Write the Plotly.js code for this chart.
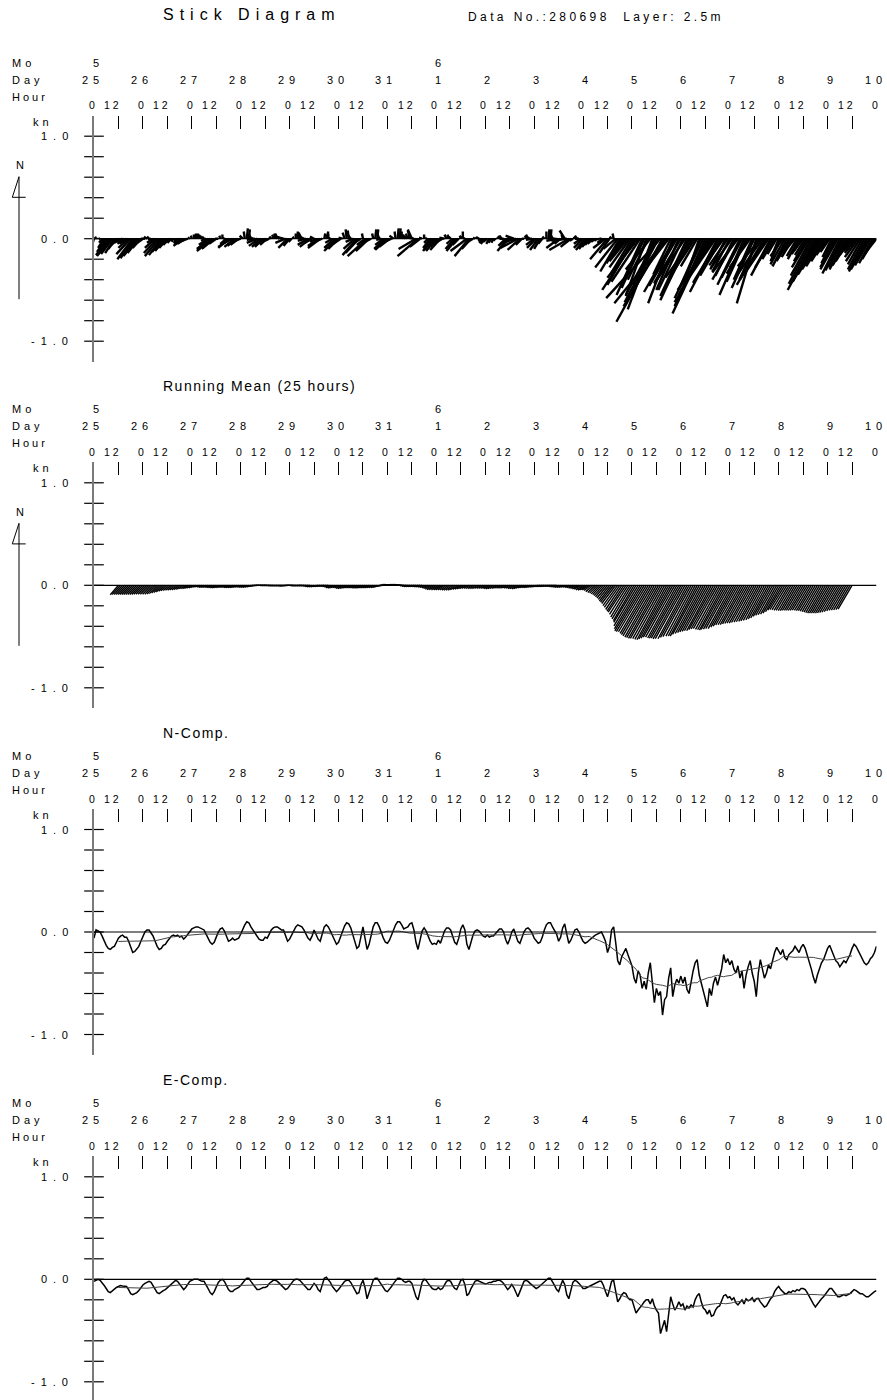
<!DOCTYPE html>
<html><head><meta charset="utf-8">
<script src="https://cdn.plot.ly/plotly-3.0.1.min.js"></script>
<style>body{margin:0;padding:0;background:#fff}</style>
</head><body>
<div id="chart" style="width:887px;height:1400px"></div>
<script>
// ---------------- DATA (hourly, from 25 May 00h to 10 June 00h) ----------------
const northComp = [
-0.06,0.02,0.01,0.00,-0.04,-0.09,-0.13,-0.16,-0.17,-0.15,-0.14,-0.10,-0.06,-0.04,-0.03,-0.05,-0.05,-0.09,-0.15,-0.20,-0.19,-0.17,-0.14,-0.09,
-0.04,0.00,0.02,0.02,-0.01,-0.04,-0.09,-0.14,-0.17,-0.16,-0.13,-0.12,-0.09,-0.06,-0.04,-0.03,-0.04,-0.03,-0.05,-0.04,-0.07,-0.05,-0.02,0.01,
0.03,0.04,0.05,0.05,0.04,0.03,0.02,-0.02,-0.06,-0.10,-0.12,-0.10,-0.05,0.00,0.03,0.04,0.01,-0.05,-0.09,-0.08,-0.06,-0.08,-0.07,-0.06,
-0.02,0.03,0.07,0.10,0.09,0.05,0.02,-0.01,-0.04,-0.07,-0.08,-0.08,-0.05,-0.06,-0.02,0.02,0.04,0.05,0.05,0.03,0.02,0.02,-0.04,-0.09,
-0.07,-0.03,0.02,0.05,0.07,0.06,0.05,0.02,-0.02,-0.06,-0.08,-0.04,0.02,-0.03,-0.07,-0.09,-0.02,0.05,0.07,0.05,0.01,-0.04,-0.09,-0.12,
-0.10,-0.05,0.01,0.06,0.09,0.08,0.04,-0.03,-0.10,-0.16,-0.14,-0.03,0.05,-0.06,-0.17,-0.12,-0.03,0.05,0.09,0.09,0.05,-0.01,-0.06,-0.10,
-0.11,-0.08,-0.03,0.03,0.07,0.10,0.10,0.07,0.03,0.04,0.05,0.08,0.09,0.02,-0.10,-0.17,-0.08,0.01,0.04,0.01,-0.04,-0.09,-0.12,-0.11,
-0.12,-0.08,-0.11,-0.05,0.01,0.04,0.04,0.02,-0.05,-0.10,-0.12,-0.06,0.03,0.07,0.02,-0.12,-0.17,-0.10,-0.03,0.01,0.02,0.01,-0.02,-0.04,
-0.05,-0.03,-0.05,-0.04,-0.04,-0.02,0.01,0.03,0.03,0.00,-0.07,-0.12,-0.07,0.00,0.03,-0.04,-0.09,-0.11,-0.06,0.00,0.03,0.04,0.02,-0.01,
-0.06,-0.09,-0.11,-0.10,-0.05,0.02,0.07,0.09,0.09,0.05,0.01,-0.02,-0.09,-0.05,0.04,0.08,-0.02,-0.11,-0.08,-0.02,0.02,0.03,0.00,-0.05,
-0.09,-0.11,-0.10,-0.08,-0.06,-0.05,-0.03,-0.02,-0.01,0.00,-0.04,-0.09,-0.20,-0.14,0.02,0.05,-0.10,-0.28,-0.32,-0.24,-0.20,-0.16,-0.22,-0.28,
-0.33,-0.45,-0.50,-0.38,-0.42,-0.55,-0.48,-0.56,-0.40,-0.30,-0.52,-0.69,-0.55,-0.62,-0.58,-0.81,-0.66,-0.63,-0.45,-0.35,-0.63,-0.52,-0.46,-0.50,
-0.43,-0.50,-0.44,-0.56,-0.60,-0.48,-0.38,-0.30,-0.27,-0.42,-0.50,-0.58,-0.66,-0.73,-0.55,-0.62,-0.50,-0.44,-0.52,-0.43,-0.36,-0.22,-0.30,-0.26,
-0.32,-0.28,-0.36,-0.40,-0.33,-0.45,-0.38,-0.55,-0.42,-0.34,-0.28,-0.40,-0.48,-0.63,-0.40,-0.27,-0.36,-0.45,-0.40,-0.32,-0.36,-0.28,-0.20,-0.15,
-0.18,-0.22,-0.17,-0.25,-0.27,-0.22,-0.20,-0.18,-0.14,-0.17,-0.20,-0.15,-0.12,-0.16,-0.22,-0.28,-0.36,-0.44,-0.50,-0.42,-0.35,-0.30,-0.27,-0.22,
-0.16,-0.13,-0.18,-0.24,-0.28,-0.30,-0.34,-0.31,-0.28,-0.30,-0.26,-0.22,-0.16,-0.12,-0.14,-0.18,-0.22,-0.25,-0.30,-0.32,-0.30,-0.26,-0.24,-0.20,
-0.14];

const eastComp = [
-0.02,-0.01,0.00,-0.01,-0.03,-0.06,-0.09,-0.12,-0.13,-0.11,-0.09,-0.08,-0.07,-0.06,-0.065,-0.07,-0.07,-0.10,-0.14,-0.15,-0.14,-0.13,-0.11,-0.08,
-0.055,-0.04,-0.03,-0.02,-0.03,-0.06,-0.10,-0.13,-0.14,-0.12,-0.11,-0.10,-0.08,-0.06,-0.04,-0.02,-0.01,-0.02,-0.05,-0.08,-0.10,-0.08,-0.05,-0.02,
-0.01,0.00,0.00,0.00,-0.01,-0.02,-0.02,-0.05,-0.09,-0.13,-0.15,-0.12,-0.07,-0.03,-0.01,0.00,-0.02,-0.06,-0.10,-0.12,-0.12,-0.10,-0.09,-0.08,
-0.06,-0.03,-0.01,0.01,0.01,-0.02,-0.05,-0.08,-0.10,-0.10,-0.09,-0.08,-0.08,-0.07,-0.04,-0.02,-0.01,-0.01,-0.02,-0.04,-0.06,-0.08,-0.10,-0.09,
-0.06,-0.03,-0.01,0.00,0.00,-0.01,-0.03,-0.05,-0.08,-0.10,-0.10,-0.07,-0.04,-0.06,-0.10,-0.12,-0.05,0.01,0.02,0.00,-0.03,-0.07,-0.10,-0.12,
-0.10,-0.07,-0.04,-0.02,-0.01,-0.01,-0.03,-0.07,-0.11,-0.14,-0.13,-0.05,-0.01,-0.08,-0.19,-0.13,-0.06,-0.01,0.01,0.01,-0.02,-0.05,-0.08,-0.11,
-0.12,-0.10,-0.07,-0.04,-0.01,0.01,0.01,0.00,-0.02,-0.03,-0.02,-0.02,-0.04,-0.10,-0.17,-0.20,-0.10,-0.03,0.00,-0.01,-0.04,-0.07,-0.09,-0.10,
-0.10,-0.08,-0.10,-0.09,-0.05,-0.02,-0.01,-0.02,-0.06,-0.09,-0.10,-0.06,-0.01,0.00,-0.05,-0.16,-0.14,-0.09,-0.05,-0.02,-0.01,-0.02,-0.03,-0.04,
-0.045,-0.04,-0.03,-0.03,-0.02,-0.02,-0.01,-0.01,-0.02,-0.04,-0.07,-0.10,-0.08,-0.05,-0.08,-0.13,-0.17,-0.12,-0.06,-0.02,-0.01,-0.02,-0.04,-0.06,
-0.08,-0.09,-0.08,-0.06,-0.04,-0.02,0.00,0.01,0.01,-0.02,-0.06,-0.10,-0.12,-0.06,-0.01,-0.05,-0.15,-0.19,-0.10,-0.03,-0.01,-0.02,-0.04,-0.07,
-0.09,-0.09,-0.08,-0.07,-0.06,-0.055,-0.04,-0.03,-0.02,-0.02,-0.06,-0.12,-0.17,-0.10,-0.02,-0.01,-0.12,-0.22,-0.19,-0.15,-0.13,-0.14,-0.18,-0.20,
-0.20,-0.26,-0.33,-0.30,-0.28,-0.25,-0.22,-0.20,-0.20,-0.24,-0.19,-0.26,-0.30,-0.33,-0.53,-0.45,-0.40,-0.51,-0.35,-0.17,-0.24,-0.30,-0.27,-0.22,
-0.26,-0.24,-0.30,-0.26,-0.28,-0.25,-0.27,-0.20,-0.16,-0.14,-0.22,-0.28,-0.30,-0.34,-0.30,-0.36,-0.35,-0.30,-0.27,-0.26,-0.21,-0.16,-0.15,-0.18,
-0.17,-0.20,-0.18,-0.23,-0.25,-0.22,-0.20,-0.24,-0.19,-0.21,-0.20,-0.18,-0.22,-0.19,-0.185,-0.22,-0.25,-0.27,-0.26,-0.22,-0.19,-0.17,-0.12,-0.09,
-0.07,-0.10,-0.12,-0.14,-0.14,-0.12,-0.13,-0.11,-0.12,-0.10,-0.11,-0.09,-0.09,-0.10,-0.13,-0.17,-0.20,-0.24,-0.27,-0.24,-0.21,-0.19,-0.17,-0.14,
-0.11,-0.09,-0.09,-0.12,-0.15,-0.17,-0.17,-0.16,-0.15,-0.16,-0.15,-0.14,-0.12,-0.10,-0.11,-0.13,-0.14,-0.14,-0.16,-0.17,-0.17,-0.15,-0.13,-0.12,
-0.11];

const monthLabels = ["5", "6"];
const monthStartHours = [0, 168];
const dayLabels = ["25","26","27","28","29","30","31","1","2","3","4","5","6","7","8","9","10"];
const yTickValues = [-1.0,-0.8,-0.6,-0.4,-0.2,0.0,0.2,0.4,0.6,0.8,1.0];
const yLabelValues = [1.0, 0.0, -1.0];
const yLabelTexts = ["1.0", "0.0", "-1.0"];
const panelTitles = ["Stick Diagram", "Running Mean (25 hours)", "N-Comp.", "E-Comp."];
const headerText = "Data No.:280698&nbsp;&nbsp;Layer: 2.5m";
const meanWindow = 25;

// ---------------- derived ----------------
const hours = northComp.map((_, i) => i);
const tEnd = hours[hours.length - 1];
function runningMean(a, w) {
  const h = Math.floor(w / 2), out = [];
  for (let i = h; i < a.length - h; i++) {
    let s = 0;
    for (let j = i - h; j <= i + h; j++) s += a[j];
    out.push(s / w);
  }
  return out;
}
const half = Math.floor(meanWindow / 2);
const meanHours = hours.slice(half, hours.length - half);
const northMean = runningMean(northComp, meanWindow);
const eastMean = runningMean(eastComp, meanWindow);

// ---------------- geometry ----------------
const W = 887, H = 1400;
const Z = [238.7, 585.3, 932, 1279.3];   // zero-line pixel rows
const U = 102.5;                          // px per knot
const X0 = 94, X1 = 876.5;                // time-axis pixel extent
const pxPerHour = (X1 - X0) / tEnd;
const K = U / pxPerHour;                  // hours of x per knot (equal scaling)
const FONT = "Liberation Sans, Arial, Helvetica, sans-serif";

function sticks(t, n, e) {
  const xs = [], ys = [];
  for (let i = 0; i < t.length; i++) {
    xs.push(t[i], t[i] + e[i] * K, null);
    ys.push(0, n[i], null);
  }
  return {x: xs, y: ys};
}

const data = [];
const layout = {
  width: W, height: H, margin: {l: 0, r: 0, t: 0, b: 0},
  paper_bgcolor: '#fff', plot_bgcolor: 'rgba(0,0,0,0)',
  showlegend: false, font: {family: FONT, color: '#000'},
  annotations: [], shapes: []
};

function sp(text, ls) { return '<span style="letter-spacing:' + ls + 'px">' + text + '</span>'; }
function ann(text, o) {
  layout.annotations.push({
    text: sp(text, o.ls || 0), showarrow: false,
    xref: o.xref || 'paper', x: o.x, xanchor: o.xanchor || 'left', xshift: o.xshift || 0,
    yref: 'paper', y: 1 - o.ypx / H, yanchor: 'middle',
    font: {family: FONT, size: o.size || 11, color: '#000'},
    borderpad: 0, borderwidth: 0
  });
}

for (let p = 0; p < 4; p++) {
  const s = p === 0 ? '' : String(p + 1);
  const top = Z[p] - 1.2 * U, bot = Math.min(Z[p] + 1.2 * U, H);
  layout['xaxis' + s] = {
    domain: [X0 / W, X1 / W], range: [0, tEnd], anchor: 'y' + s, side: 'top',
    ticks: 'inside', ticklen: 13, tickwidth: 1, tickcolor: '#000', tick0: 0, dtick: 12,
    showticklabels: false, showgrid: false, zeroline: false, showline: false, fixedrange: true
  };
  layout['yaxis' + s] = {
    domain: [1 - bot / H, 1 - top / H], range: [-(bot - Z[p]) / U, 1.2], anchor: 'x' + s,
    showline: true, linecolor: '#7a7a7a', linewidth: 1.6, ticks: '', showticklabels: false,
    showgrid: false, zeroline: false, fixedrange: true
  };
  const xa = 'x' + s, ya = 'y' + s;
  layout.shapes.push({type: 'line', xref: xa, yref: ya, x0: hours[0], x1: tEnd, y0: 0, y1: 0,
    line: {color: '#000', width: 1.2}});
  data.push({type: 'scatter', mode: 'markers', x: yTickValues.map(() => 0), y: yTickValues,
    xaxis: xa, yaxis: ya, cliponaxis: false, hoverinfo: 'skip',
    marker: {symbol: 'line-ew', size: 14, color: '#000', line: {width: 1.2, color: '#000'}}});

  ann('Mo', {x: 12 / W, ypx: Z[p] - 176, size: 11, ls: 4});
  ann('Day', {x: 12 / W, ypx: Z[p] - 159, size: 11, ls: 4});
  ann('Hour', {x: 12 / W, ypx: Z[p] - 142, size: 11, ls: 3});
  ann('kn', {x: 42.5 / W, xanchor: 'center', ypx: Z[p] - 117, size: 11, ls: 4});
  monthLabels.forEach((m, i) => ann(m, {xref: xa, x: monthStartHours[i], xanchor: 'right', xshift: 10, ypx: Z[p] - 176, size: 11, ls: 5}));
  dayLabels.forEach((d, i) => ann(d, {xref: xa, x: i * 24, xanchor: 'right', xshift: 10, ypx: Z[p] - 159, size: 11, ls: 5}));
  for (let h = 0; h <= tEnd; h += 12) {
    ann(h % 24 === 0 ? '0' : '12', {xref: xa, x: h, xanchor: 'right', xshift: 4, ypx: Z[p] - 133.3, size: 10.5, ls: 3});
  }
  yLabelValues.forEach((v, i) => ann(yLabelTexts[i], {x: 74 / W, xanchor: 'right', ypx: Z[p] - v * U, size: 11, ls: 6}));
  if (p === 0) ann(panelTitles[p], {x: 163 / W, ypx: 15, size: 16, ls: 6});
  else ann(panelTitles[p], {x: 163 / W, ypx: Z[p] - 199, size: 14, ls: 1.5});
}
ann(headerText, {x: 468 / W, ypx: 17.5, size: 12, ls: 3.4});

// North arrows (panels 1 & 2)
[0, 1].forEach(p => {
  const xL = 19 / W, xb1 = 12.3 / W, xb2 = 25.7 / W;
  const yT = 1 - (Z[p] - 62) / H, yB = 1 - (Z[p] + 60.5) / H, yBarb = 1 - (Z[p] - 41.4) / H;
  layout.shapes.push({type: 'path', xref: 'paper', yref: 'paper',
    path: `M ${xL},${yB} L ${xL},${yT} L ${xb1},${yBarb} L ${xb2},${yBarb}`,
    line: {color: '#000', width: 1}});
  ann('N', {x: 20 / W, xanchor: 'center', ypx: Z[p] - 73.7, size: 11, ls: 0});
});

const st1 = sticks(hours, northComp, eastComp);
data.push({type: 'scatter', mode: 'lines', x: st1.x, y: st1.y, xaxis: 'x', yaxis: 'y',
  line: {color: '#000', width: 2.4}, hoverinfo: 'skip', connectgaps: false});
const st2 = sticks(meanHours, northMean, eastMean);
data.push({type: 'scatter', mode: 'lines', x: st2.x, y: st2.y, xaxis: 'x2', yaxis: 'y2',
  line: {color: '#000', width: 1.4}, hoverinfo: 'skip', connectgaps: false});
data.push({type: 'scatter', mode: 'lines', x: hours, y: northComp, xaxis: 'x3', yaxis: 'y3',
  line: {color: '#000', width: 1.5}, hoverinfo: 'skip'});
data.push({type: 'scatter', mode: 'lines', x: meanHours, y: northMean, xaxis: 'x3', yaxis: 'y3',
  line: {color: '#444', width: 1}, hoverinfo: 'skip'});
data.push({type: 'scatter', mode: 'lines', x: hours, y: eastComp, xaxis: 'x4', yaxis: 'y4',
  line: {color: '#000', width: 1.5}, hoverinfo: 'skip'});
data.push({type: 'scatter', mode: 'lines', x: meanHours, y: eastMean, xaxis: 'x4', yaxis: 'y4',
  line: {color: '#444', width: 1}, hoverinfo: 'skip'});

Plotly.newPlot('chart', data, layout, {staticPlot: true, displayModeBar: false});
</script>
</body></html>
